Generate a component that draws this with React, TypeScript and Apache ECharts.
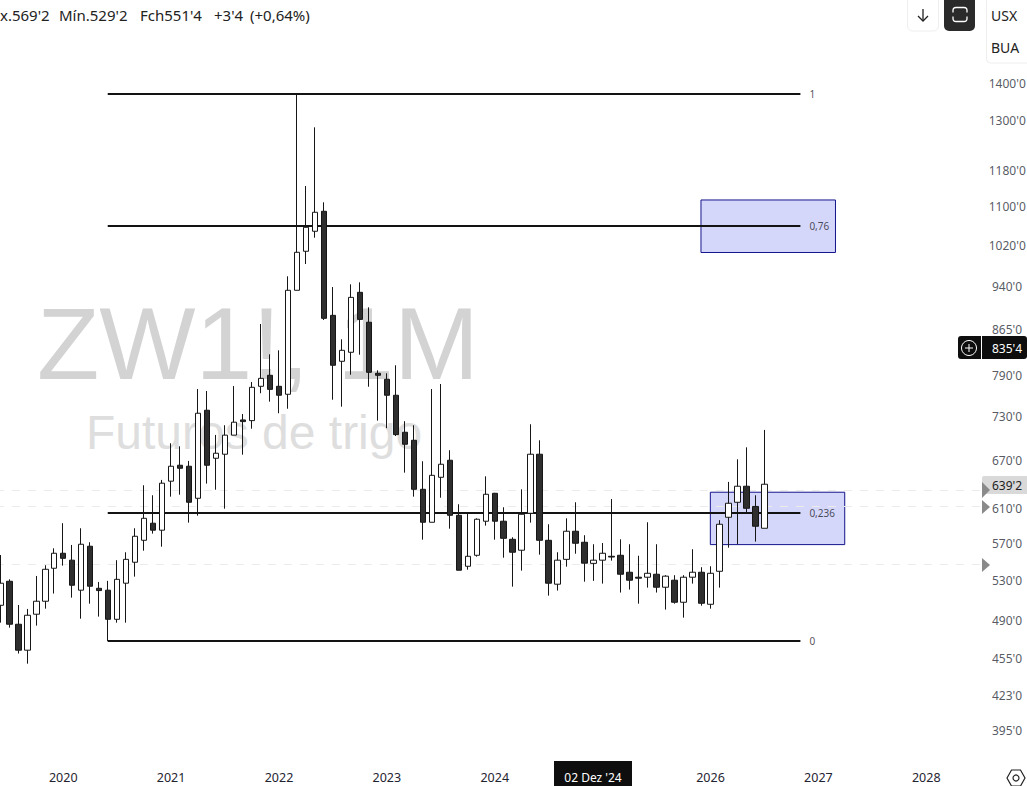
import React, { useEffect, useRef } from "react";
import * as echarts from "echarts";

const FONT = '"Noto Sans", sans-serif';
const MARK_FONT = '"Liberation Sans", sans-serif';
const startYear = 2019;
const startMonth = 5; // June
const slotCount = 115;
const categories: string[] = [];
for (let k = 0; k < slotCount; k++) {
  const m = startMonth + k;
  const y = startYear + Math.floor(m / 12);
  const mm = (m % 12) + 1;
  categories.push(`${y}-${mm < 10 ? "0" + mm : mm}`);
}

const opens = [503.8,528,485.5,461.5,495.1,507.8,541.6,557.7,550.2,518.9,565.4,520.8,518.9,490.2,526,548,572,591.4,583.4,642,662.3,661,620.9,737.4,671.4,676.7,702.4,723.6,722.6,772.7,789.5,772.7,760.8,932.1,1005.9,1046,1087.6,887.6,811.4,825.8,928.4,875.7,792.6,783.4,759.3,706.4,695.4,631.9,592.5,646.9,668.8,600.6,543.7,555.5,593.7,627,593.7,573.1,561,603,676.7,572,525,551.1,582.2,569.8,546.8,550.2,554.4,555.5,537.4,532.2,532.2,535.3,521.9,529.1,506.8,532.2,537.4,504.8,538.4,598.3,616.1,635.7,611.1,585.6];
const closes = [526,485.5,461.5,494.1,507.8,540.5,557.7,552.2,523.9,567.6,522.9,518.5,490.2,530,551.1,576.5,597.1,583.4,639.5,661,658.4,616.1,733.1,662.3,678,702.4,720.4,721.2,771.2,784.8,768.1,759.3,932.1,1003.9,1054.1,1085.5,882.4,805.1,829,919.3,880.6,794.1,789.5,759.3,703.1,690,631.9,592.5,649.4,663.6,600.6,539.5,554.4,596,625.8,593.7,574.2,558.8,601.8,676.7,572,526,550.2,582.2,568.7,547,550.2,557.7,553.6,535.3,529.1,531.2,536.3,521.9,533.3,506.8,532.2,537.4,505.8,536.3,590.2,614.9,635.7,608.9,587.9,638.2];
const lows = [487,482.3,458.5,449.5,484.2,500.5,515.5,544.4,511.4,490.8,505.4,492.8,469.8,487,487,532.8,560.5,579.5,564.9,622.9,625.3,592.1,600.2,639,631.4,608.4,702.4,676.1,711.3,762.3,749.9,733.1,739.6,932.1,981.2,1032.9,879.6,752.7,742.6,790.4,821.9,772.1,722.6,712,701.2,652.8,622.9,572.7,592.5,621.6,585.1,539.5,540.1,554,588.6,572.7,552.9,522.5,539.1,592.1,556.2,513.4,518.5,543.3,557.2,527.6,528.4,525.6,549.7,516.5,519.5,505.4,521.5,516.5,499.6,505.4,491.8,525.6,503.4,500.5,521.5,563.8,567.6,604.2,570.5,585.6];
const highs = [555.8,530,504.1,500.2,533.5,544.8,563.1,591.4,566.8,585.6,569.8,527.3,528.4,550.2,558.8,585.6,636.9,624.6,643.6,691.3,687.3,667.9,768.6,765.7,702.7,716.1,773.1,732,779.2,872.7,822.5,829,957.9,1367.6,1142.6,1281.4,1106.9,938,847,943,946.7,901.6,797.2,792.6,805.1,721.8,716.1,667.5,768.6,776.2,682,613.7,603.7,597.1,648.1,627.5,610.1,575.4,631.9,717.5,695.4,590.2,558.8,597.1,616.1,577.7,567.6,569,620,573.1,567.6,555,592.5,567.6,534.3,534.3,534.3,562.1,542.7,543.7,594.9,641.1,670,685.9,624.6,709.6];

const priceTicks = [1400,1300,1180,1100,1020,940,865,790,730,670,610,570,530,490,455,423,395];
const fibPrices = [1367.6, 1056.7, 603.3, 469.8];
const fibLabels = ["1", "0,76", "0,236", "0"];
const zoneTops = [1111.9, 628.3];
const zoneBottoms = [1003.5, 567.2];
const guidePrices = [631, 610.9, 546];
const yearsHidden = ["2025"];

const W = 1027;
const H = 786;
const slot = 8.99;
const axisBottom = 765;
const yMax = 1643.2;
const yMin = 368.8;

const hexPts = (cx: number, cy: number) => [
  [cx - 9, cy], [cx - 4.5, cy - 8], [cx + 4.5, cy - 8], [cx + 9, cy], [cx + 4.5, cy + 8], [cx - 4.5, cy + 8],
];

const ICON = "M-7 -2 V-4 Q-7 -7 -4 -7 H4 Q7 -7 7 -4 V-2 M7 2 V4 Q7 7 4 7 H-4 Q-7 7 -7 4 V2";
echarts.graphic.registerShape("frameIcon", echarts.graphic.extendPath(ICON as any, {}) as any);

const txt = (text: string, x: number, y: number, size: number, fill: string, extra: any = {}) => ({
  type: "text",
  x,
  y,
  z: 100,
  silent: true,
  style: { text, fill, font: `${size}px ${FONT}`, align: "left", verticalAlign: "middle", ...extra },
});

export default function App() {
  const ref = useRef<HTMLDivElement>(null);
  useEffect(() => {
    document.body.style.margin = "0";
    document.body.style.overflow = "hidden";
    const chart = echarts.init(ref.current!, undefined, { renderer: "svg", width: W, height: H });

    const candleData = opens.map((o, i) => [o, closes[i], lows[i], highs[i]]);

    chart.setOption({
      animation: false,
      backgroundColor: "#ffffff",
      grid: {
        left: 0.3 - slot / 2,
        top: 0,
        width: slot * slotCount,
        height: axisBottom,
        containLabel: false,
        outerBoundsMode: "none",
      },
      xAxis: [
        {
          type: "category",
          data: categories,
          boundaryGap: true,
          axisLine: { show: false },
          axisTick: { show: false },
          splitLine: { show: false },
          axisLabel: {
            interval: (_i: number, v: string) => v.endsWith("-01") && !yearsHidden.includes(v.slice(0, 4)),
            formatter: (v: string) => v.slice(0, 4),
            color: "#1f2430",
            fontSize: 12.5,
            fontFamily: FONT,
            margin: 6,
          },
        },
        { type: "value", min: -0.5, max: slotCount - 0.5, show: false },
      ],
      yAxis: [
        {
          type: "log",
          min: yMin,
          max: yMax,
          axisLine: { show: false },
          axisTick: { show: false },
          axisLabel: { show: false },
          splitLine: { show: false },
        },
      ],
      graphic: [
        { type: "text", x: 37, y: 344, z: 0, silent: true, style: { text: "ZW1!, 1M", fill: "#d3d3d3", font: `102px ${MARK_FONT}`, verticalAlign: "middle" } },
        { type: "text", x: 86, y: 432, z: 0, silent: true, style: { text: "Futuros de trigo", fill: "#dedede", font: `48px ${MARK_FONT}`, verticalAlign: "middle" } },

        txt("x.569'2", 0, 15, 15, "#222"),
        txt("Mín.529'2", 59, 15, 15, "#222"),
        txt("Fch551'4", 140, 15, 15, "#222"),
        txt("+3'4", 214, 15, 15, "#222"),
        txt("(+0,64%)", 250, 15, 15, "#222"),

        { type: "rect", z: 100, silent: true, shape: { x: 907.5, y: -4, width: 31, height: 35, r: 5 }, style: { fill: "#fff", stroke: "#eeeeee" } },
        { type: "polyline", z: 101, silent: true, shape: { points: [[923, 9], [923, 21]] }, style: { stroke: "#222", lineWidth: 1.3, fill: "none" } },
        { type: "polyline", z: 101, silent: true, shape: { points: [[918, 16], [923, 21], [928, 16]] }, style: { stroke: "#222", lineWidth: 1.3, fill: "none" } },
        { type: "rect", z: 100, silent: true, shape: { x: 944, y: -4, width: 31, height: 35, r: 5 }, style: { fill: "#2a2a2a" } },
        { type: "frameIcon", z: 101, silent: true, x: 960, y: 14.5, style: { fill: "none", stroke: "#ffffff", lineWidth: 1.3 } },
        { type: "rect", z: 100, silent: true, shape: { x: 986.5, y: -4, width: 50, height: 67, r: 4 }, style: { fill: "#fff", stroke: "#eeeeee" } },
        txt("USX", 991, 15, 14, "#222"),
        txt("BUA", 991, 47, 14, "#222"),

        { type: "polygon", z: 100, silent: true, shape: { points: [[982, 482], [990, 490], [982, 498]] }, style: { fill: "#8a8a8a" } },
        { type: "rect", z: 99, silent: true, shape: { x: 982, y: 476, width: 45, height: 18, r: [2, 0, 0, 2] }, style: { fill: "#d9d9d9" } },
        txt("639'2", 992, 485, 12, "#222"),
        { type: "polygon", z: 100, silent: true, shape: { points: [[982, 500], [990, 507], [982, 514]] }, style: { fill: "#8a8a8a" } },
        { type: "polygon", z: 100, silent: true, shape: { points: [[982, 558], [990, 565], [982, 572]] }, style: { fill: "#8a8a8a" } },

        { type: "rect", z: 100, silent: true, shape: { x: 958, y: 336, width: 69, height: 23, r: 3 }, style: { fill: "#0e0e0e" } },
        { type: "rect", z: 101, silent: true, shape: { x: 981, y: 336, width: 1, height: 23 }, style: { fill: "#ffffff" } },
        { type: "circle", z: 101, silent: true, shape: { cx: 969, cy: 348, r: 7.5 }, style: { fill: "none", stroke: "#ffffff", lineWidth: 1 } },
        { type: "line", z: 101, silent: true, shape: { x1: 965, y1: 348, x2: 973, y2: 348 }, style: { stroke: "#fff", lineWidth: 1 } },
        { type: "line", z: 101, silent: true, shape: { x1: 969, y1: 344, x2: 969, y2: 352 }, style: { stroke: "#fff", lineWidth: 1 } },
        txt("835'4", 992, 348, 12, "#ffffff"),

        { type: "rect", z: 100, silent: true, shape: { x: 554, y: 761, width: 78, height: 25 }, style: { fill: "#0e0e0e" } },
        txt("02 Dez '24", 593, 777, 12, "#ffffff", { align: "center" }),

        { type: "polygon", z: 100, silent: true, shape: { points: hexPts(1016, 778) }, style: { fill: "none", stroke: "#222", lineWidth: 1.2 } },
        { type: "circle", z: 100, silent: true, shape: { cx: 1016, cy: 778, r: 3 }, style: { fill: "none", stroke: "#222", lineWidth: 1.2 } },
      ],
      series: [
        {
          name: "Níveis",
          type: "scatter",
          xAxisIndex: 1,
          yAxisIndex: 0,
          z: 2,
          silent: true,
          symbolSize: 0,
          clip: false,
          data: fibPrices.map((p, i) => ({ value: [90, p], name: fibLabels[i] })),
          label: {
            show: true,
            position: "right",
            distance: 0,
            formatter: (d: any) => d.name,
            fontSize: 10,
            fontFamily: FONT,
            color: "#1f2430",
          },
          markArea: {
            silent: true,
            z: 1,
            itemStyle: { color: "rgba(44,56,228,0.2)", borderColor: "#14148c", borderWidth: 1 },
            data: [
              [{ coord: [77.94, zoneTops[0]] }, { coord: [92.9, zoneBottoms[0]] }],
              [{ coord: [78.98, zoneTops[1]] }, { coord: [93.93, zoneBottoms[1]] }],
            ],
          },
          markLine: {
            silent: true,
            symbol: "none",
            z: 2,
            label: { show: false },
            lineStyle: { color: "#131313", width: 2, type: "solid" },
            data: fibPrices.map((p) => [{ coord: [11.95, p] }, { coord: [89, p] }]),
          },
        },
        {
          name: "Guias",
          type: "scatter",
          xAxisIndex: 1,
          yAxisIndex: 0,
          z: 1,
          silent: true,
          symbolSize: 0,
          data: [],
          markLine: {
            silent: true,
            symbol: "none",
            label: { show: false },
            lineStyle: { color: "#ebebeb", width: 1, type: [8, 8] },
            data: guidePrices.map((p) => [{ coord: [-0.5, p] }, { coord: [109.2, p] }]),
          },
        },
        {
          name: "Escala",
          type: "scatter",
          xAxisIndex: 1,
          yAxisIndex: 0,
          z: 3,
          silent: true,
          symbolSize: 0,
          clip: false,
          data: priceTicks.map((p) => [p >= 1000 ? 109.95 : 110.3, p]),
          label: {
            show: true,
            position: "right",
            distance: 0,
            offset: [0, 1],
            formatter: (d: any) => `${d.value[1]}'0`,
            fontSize: 12,
            fontFamily: FONT,
            color: "#2a2e39",
          },
        },
        {
          name: "ZW1!",
          type: "candlestick",
          xAxisIndex: 0,
          yAxisIndex: 0,
          z: 5,
          silent: true,
          barWidth: 6,
          data: candleData,
          itemStyle: {
            color: "#ffffff",
            color0: "#2e2e2e",
            borderColor: "#161616",
            borderColor0: "#161616",
            borderWidth: 1,
          },
        },
      ],
    });
    return () => chart.dispose();
  }, []);
  return <div ref={ref} style={{ position: "absolute", left: 0, top: 0, width: W, height: H }} />;
}
